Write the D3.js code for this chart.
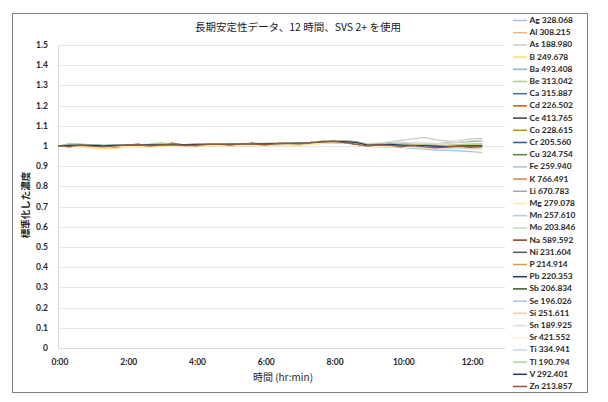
<!DOCTYPE html>
<html><head><meta charset="utf-8">
<script src="https://cdn.jsdelivr.net/npm/d3@7"></script>
<style>html,body{margin:0;padding:0;background:#fff;}svg{display:block;}</style>
</head><body>
<svg id="c" width="608" height="402"></svg>
<script>
const title = "長期安定性データ、12 時間、SVS 2+ を使用";
const yTitle = "標準化した濃度";
const xTitle = "時間 (hr:min)";
const timesMin = [0,20,40,60,80,100,120,140,160,180,200,220,240,260,280,300,320,340,360,380,400,420,440,460,480,500,520,540,560,580,600,620,640,660,680,700,720,740];
const xTickMin = [0,120,240,360,480,600,720];
const xTickLabels = ["0:00","2:00","4:00","6:00","8:00","10:00","12:00"];
const yTicks = [0,0.1,0.2,0.3,0.4,0.5,0.6,0.7,0.8,0.9,1,1.1,1.2,1.3,1.4,1.5];
const seriesNames = ["Ag 328.068","Al 308.215","As 188.980","B 249.678","Ba 493.408","Be 313.042","Ca 315.887","Cd 226.502","Ce 413.765","Co 228.615","Cr 205.560","Cu 324.754","Fe 259.940","K 766.491","Li 670.783","Mg 279.078","Mn 257.610","Mo 203.846","Na 589.592","Ni 231.604","P 214.914","Pb 220.353","Sb 206.834","Se 196.026","Si 251.611","Sn 189.925","Sr 421.552","Ti 334.941","Tl 190.794","V 292.401","Zn 213.857"];
const colors = ["#9dc3e6","#f4b183","#c9c9c9","#ffd966","#8faadc","#a9d18e","#41719c","#c55a11","#3b3838","#bf9000","#2f5597","#548235","#9dc3e6","#d08050","#a5a5a5","#ffe699","#b4c7e7","#c5e0b4","#843c0c","#595959","#c9a14a","#1f3864","#375623","#9dc3e6","#f8cbad","#dbdbdb","#fff2cc","#bdd7ee","#a9d18e","#203864","#9a5630"];

const Ag=[1.000,1.002,1.005,1.003,1.001,1.003,1.002,1.005,1.004,1.007,1.005,1.006,1.005,1.008,1.007,1.009,1.008,1.011,1.009,1.012,1.012,1.015,1.015,1.021,1.022,1.023,1.017,1.004,1.007,1.006,1.003,1.000,0.998,0.995,0.993,0.995,0.996,0.994];
const Al=[1.000,1.004,1.003,1.001,0.999,1.001,1.004,1.003,1.006,1.005,1.007,1.004,1.007,1.006,1.009,1.007,1.010,1.009,1.011,1.010,1.014,1.013,1.017,1.019,1.024,1.021,1.019,1.006,1.005,1.009,1.005,1.003,1.004,1.000,0.999,1.001,1.003,1.002];
const As=[1.000,1.003,1.004,1.003,1.001,1.002,1.004,1.003,1.005,1.006,1.007,1.005,1.006,1.008,1.007,1.009,1.009,1.011,1.010,1.012,1.013,1.014,1.016,1.021,1.024,1.022,1.019,1.008,1.012,1.020,1.028,1.036,1.043,1.030,1.024,1.026,1.035,1.038];
const B=[1.000,0.998,0.996,0.990,0.985,0.988,0.995,0.997,0.994,0.999,1.001,0.998,0.996,0.999,1.001,1.000,1.003,1.002,1.004,1.003,1.006,1.004,1.008,1.012,1.014,1.013,1.010,0.998,0.996,1.000,0.995,0.992,0.990,0.987,0.985,0.988,0.986,0.985];
const Ba=[1.000,1.004,1.006,1.004,1.003,1.004,1.005,1.006,1.007,1.008,1.008,1.007,1.009,1.010,1.011,1.010,1.012,1.013,1.012,1.014,1.015,1.016,1.018,1.022,1.025,1.024,1.020,1.008,1.009,1.011,1.007,1.006,1.005,1.002,1.001,1.003,1.004,1.005];
const Be=[1.000,1.012,1.010,1.006,1.002,1.004,1.003,1.006,1.009,1.015,1.008,1.005,1.007,1.006,1.009,1.008,1.010,1.009,1.012,1.011,1.013,1.015,1.016,1.022,1.026,1.024,1.019,1.007,1.008,1.010,1.006,1.004,1.006,1.002,1.000,1.003,1.005,1.006];
const Ca=[1.000,1.003,1.004,1.003,1.002,1.003,1.004,1.005,1.006,1.006,1.007,1.006,1.007,1.008,1.009,1.009,1.010,1.011,1.011,1.012,1.014,1.015,1.017,1.021,1.023,1.023,1.018,1.006,1.007,1.009,1.005,1.003,1.002,0.999,0.998,1.000,1.001,1.001];
const Cd=[1.000,1.002,1.003,1.000,0.997,1.000,1.002,1.004,1.003,1.006,1.004,1.003,1.005,1.006,1.006,1.005,1.008,1.008,1.009,1.009,1.011,1.012,1.014,1.018,1.020,1.019,1.015,1.002,1.003,1.005,1.001,0.998,0.996,0.993,0.992,0.994,0.996,0.995];
const Ce=[1.000,1.001,1.005,1.001,1.002,1.000,1.004,1.003,1.006,1.004,1.008,1.004,1.007,1.006,1.009,1.007,1.010,1.009,1.012,1.010,1.013,1.012,1.016,1.018,1.023,1.020,1.018,1.003,1.006,1.006,1.004,1.000,1.001,0.996,0.997,0.997,1.000,0.998];
const Co=[1.000,1.001,1.002,0.999,0.996,0.999,1.001,1.002,1.003,1.004,1.004,1.002,1.004,1.005,1.006,1.005,1.007,1.008,1.007,1.009,1.010,1.011,1.013,1.017,1.020,1.019,1.015,1.001,1.002,1.004,1.000,0.997,0.996,0.992,0.990,0.993,0.994,0.993];
const Cr=[1.000,1.003,1.005,1.004,1.002,1.003,1.004,1.006,1.006,1.007,1.007,1.006,1.007,1.008,1.009,1.009,1.011,1.011,1.012,1.012,1.014,1.015,1.017,1.021,1.024,1.023,1.019,1.006,1.007,1.009,1.005,1.004,1.003,1.000,0.999,1.001,1.002,1.003];
const Cu=[1.000,1.005,1.002,1.004,0.999,1.003,1.002,1.006,1.004,1.007,1.005,1.007,1.005,1.009,1.007,1.010,1.008,1.011,1.009,1.013,1.012,1.015,1.015,1.021,1.022,1.023,1.017,1.006,1.005,1.009,1.003,1.003,1.000,0.999,0.996,0.999,0.999,1.001];
const Fe=[1.000,1.002,1.003,1.001,0.999,1.001,1.002,1.003,1.004,1.005,1.005,1.004,1.005,1.006,1.007,1.007,1.008,1.009,1.009,1.010,1.011,1.011,1.013,1.016,1.018,1.017,1.013,0.998,0.996,0.997,0.992,0.988,0.985,0.980,0.978,0.976,0.972,0.968];
const K=[1.000,1.004,1.005,1.003,1.001,1.003,1.005,1.005,1.007,1.007,1.008,1.006,1.008,1.009,1.010,1.009,1.011,1.012,1.012,1.013,1.015,1.016,1.018,1.023,1.026,1.025,1.021,1.008,1.010,1.012,1.008,1.006,1.006,1.003,1.002,1.004,1.006,1.007];
const Li=[1.000,1.003,1.003,1.002,1.000,1.002,1.003,1.004,1.004,1.006,1.005,1.005,1.006,1.007,1.007,1.008,1.009,1.009,1.010,1.011,1.012,1.014,1.015,1.019,1.022,1.021,1.017,1.005,1.010,1.015,1.012,1.010,1.008,1.012,1.015,1.018,1.022,1.025];
const Mg=[1.000,0.999,0.997,0.994,0.991,0.994,0.997,0.999,0.998,1.001,1.002,1.000,0.999,1.002,1.003,1.002,1.005,1.004,1.006,1.005,1.008,1.007,1.010,1.014,1.016,1.015,1.012,0.999,0.998,1.001,0.997,0.994,0.992,0.989,0.987,0.990,0.989,0.988];
const Mn=[1.000,1.002,1.004,1.003,1.001,1.002,1.003,1.005,1.005,1.006,1.006,1.005,1.006,1.007,1.008,1.008,1.010,1.010,1.011,1.011,1.013,1.014,1.016,1.020,1.023,1.022,1.018,1.005,1.006,1.008,1.004,1.002,1.001,0.998,0.996,0.998,0.999,0.999];
const Mo=[1.000,1.005,1.006,1.004,1.002,1.004,1.005,1.007,1.006,1.009,1.008,1.007,1.008,1.010,1.009,1.011,1.011,1.013,1.012,1.014,1.015,1.017,1.018,1.024,1.027,1.025,1.021,1.009,1.011,1.013,1.009,1.008,1.009,1.006,1.005,1.008,1.010,1.012];
const Na=[1.000,0.996,1.004,1.002,0.997,0.993,1.004,1.010,1.000,1.004,1.015,1.004,0.999,1.008,1.012,1.003,1.008,1.014,1.005,1.011,1.016,1.008,1.013,1.022,1.027,1.016,1.008,1.000,1.010,1.003,0.996,1.007,0.998,0.990,0.997,1.003,0.992,0.998];
const Ni=[1.000,1.003,1.004,1.003,1.001,1.002,1.004,1.005,1.005,1.006,1.007,1.006,1.007,1.007,1.008,1.009,1.010,1.010,1.011,1.012,1.013,1.014,1.016,1.020,1.023,1.022,1.018,1.005,1.007,1.008,1.004,1.003,1.002,0.999,0.998,0.999,1.001,1.001];
const P=[1.000,1.001,1.000,0.997,0.994,0.997,1.000,1.001,1.001,1.003,1.003,1.001,1.002,1.004,1.005,1.004,1.006,1.006,1.006,1.007,1.009,1.010,1.012,1.016,1.018,1.017,1.014,1.000,0.999,1.002,0.997,0.995,0.993,0.990,0.989,0.991,0.992,0.991];
const Pb=[1.000,1.003,1.005,1.003,1.002,1.003,1.005,1.005,1.006,1.007,1.007,1.006,1.008,1.008,1.009,1.010,1.010,1.011,1.012,1.012,1.014,1.015,1.017,1.022,1.024,1.023,1.019,1.006,1.008,1.009,1.005,1.003,1.003,1.000,0.998,1.000,1.002,1.002];
const Sb=[1.000,1.004,1.004,1.002,1.001,1.003,1.004,1.005,1.006,1.006,1.007,1.006,1.007,1.008,1.009,1.008,1.010,1.011,1.011,1.012,1.014,1.015,1.017,1.022,1.025,1.024,1.020,1.007,1.008,1.010,1.006,1.004,1.004,1.001,1.000,1.002,1.004,1.004];
const Se=[1.000,1.002,1.003,1.002,1.000,1.001,1.003,1.004,1.004,1.005,1.006,1.004,1.005,1.007,1.007,1.007,1.009,1.009,1.010,1.010,1.012,1.013,1.015,1.018,1.021,1.020,1.016,1.003,1.004,1.006,1.002,0.999,0.998,0.995,0.993,0.995,0.997,0.996];
const Si=[1.000,1.003,1.005,1.004,1.001,1.003,1.004,1.006,1.005,1.007,1.006,1.006,1.007,1.009,1.008,1.010,1.010,1.012,1.011,1.013,1.014,1.016,1.017,1.023,1.025,1.024,1.020,1.007,1.009,1.011,1.007,1.005,1.006,1.003,1.001,1.004,1.006,1.007];
const Sn=[1.000,1.004,1.005,1.003,1.002,1.004,1.005,1.006,1.007,1.008,1.008,1.007,1.008,1.009,1.010,1.010,1.012,1.012,1.013,1.013,1.015,1.016,1.018,1.022,1.026,1.025,1.021,1.012,1.016,1.022,1.018,1.015,1.016,1.012,1.014,1.019,1.026,1.030];
const Sr=[1.000,0.998,0.997,0.995,0.993,0.995,0.998,0.999,1.000,1.001,1.001,0.999,1.000,1.002,1.002,1.003,1.004,1.004,1.005,1.006,1.008,1.009,1.011,1.015,1.017,1.016,1.012,0.998,0.997,1.000,0.995,0.992,0.991,0.988,0.986,0.988,0.990,0.989];
const Ti=[1.000,1.002,1.004,1.002,1.001,1.002,1.003,1.004,1.005,1.005,1.006,1.005,1.006,1.007,1.008,1.008,1.009,1.010,1.010,1.011,1.012,1.013,1.015,1.019,1.021,1.020,1.016,1.002,1.003,1.004,0.999,0.996,0.994,0.991,0.989,0.990,0.991,0.990];
const Tl=[1.000,1.010,1.008,1.005,1.003,1.005,1.004,1.007,1.008,1.012,1.010,1.006,1.008,1.007,1.010,1.009,1.011,1.010,1.013,1.012,1.014,1.016,1.017,1.023,1.026,1.025,1.020,1.008,1.010,1.012,1.008,1.006,1.007,1.004,1.003,1.006,1.009,1.011];
const V=[1.000,1.003,1.004,1.003,1.001,1.003,1.004,1.005,1.006,1.006,1.007,1.006,1.007,1.008,1.008,1.009,1.010,1.010,1.011,1.012,1.013,1.014,1.016,1.021,1.023,1.022,1.018,1.005,1.006,1.008,1.004,1.002,1.002,0.999,0.997,0.999,1.001,1.000];
const Zn=[1.000,0.998,1.003,0.999,0.995,1.000,1.004,1.006,1.001,1.006,1.010,1.002,1.004,1.008,1.009,1.004,1.010,1.011,1.006,1.012,1.013,1.010,1.015,1.019,1.024,1.017,1.010,0.999,1.006,1.003,0.997,1.003,0.995,0.991,0.996,0.999,0.993,0.997];

const seriesValues = [Ag,Al,As,B,Ba,Be,Ca,Cd,Ce,Co,Cr,Cu,Fe,K,Li,Mg,Mn,Mo,Na,Ni,P,Pb,Sb,Se,Si,Sn,Sr,Ti,Tl,V,Zn];

const svg = d3.select("#c");
const plot = {l:58, r:505, t:45, b:348};
const x = d3.scaleLinear().domain([0,780]).range([plot.l, plot.r]);
const y = d3.scaleLinear().domain([0,1.5]).range([plot.b, plot.t]);
const latin = "Lato, 'Liberation Sans', sans-serif";
const cjk = "'Noto Sans CJK JP', 'Noto Sans', sans-serif";

svg.append("rect").attr("x",12.5).attr("y",13.5).attr("width",575).attr("height",379)
  .attr("fill","#fff").attr("stroke","#7f7f7f").attr("stroke-width",1);

svg.append("g").selectAll("line").data(yTicks.filter(d=>d>0)).join("line")
  .attr("x1",plot.l).attr("x2",plot.r)
  .attr("y1",d=>Math.round(y(d))+0.5).attr("y2",d=>Math.round(y(d))+0.5)
  .attr("stroke","#e4e4e4").attr("stroke-width",1);

svg.append("line").attr("x1",plot.l+0.5).attr("x2",plot.l+0.5).attr("y1",plot.t).attr("y2",plot.b)
  .attr("stroke","#d9d9d9");
svg.append("line").attr("x1",plot.l).attr("x2",plot.r).attr("y1",plot.b+0.5).attr("y2",plot.b+0.5)
  .attr("stroke","#d9d9d9");

svg.append("g").selectAll("text").data(yTicks).join("text")
  .attr("x",48).attr("y",d=>y(d)).attr("dy","0.35em").attr("text-anchor","end")
  .attr("font-family",latin).attr("font-weight","bold").attr("font-size",8.5).attr("fill","#262626")
  .text(d=>String(d));

svg.append("g").selectAll("text").data(xTickMin).join("text")
  .attr("x",(d)=>x(d)+2).attr("y",362).attr("dy","0.35em").attr("text-anchor","middle")
  .attr("font-family",latin).attr("font-weight","bold").attr("font-size",8.5).attr("fill","#262626")
  .text((d,i)=>xTickLabels[i]);

svg.append("text").attr("x",298).attr("y",27).attr("dy","0.35em").attr("text-anchor","middle")
  .attr("font-family",cjk).attr("font-size",10.5).attr("fill","#1a1a1a").text(title);
svg.append("text").attr("x",283).attr("y",377).attr("dy","0.35em").attr("text-anchor","middle")
  .attr("font-family",cjk).attr("font-size",10).attr("fill","#262626").text(xTitle);
svg.append("text").attr("transform","translate(26,205) rotate(-90)").attr("dy","0.35em").attr("text-anchor","middle")
  .attr("font-family",cjk).attr("font-weight","bold").attr("font-size",9.5).attr("fill","#262626").text(yTitle);

const line = d3.line().defined((d,i)=>timesMin[i]!==undefined && d!=null)
  .x((d,i)=>x(timesMin[i])).y(d=>y(d));
svg.append("g").selectAll("path").data(seriesValues).join("path")
  .attr("d",d=>line(d)).attr("fill","none")
  .attr("stroke",(d,i)=>colors[i]).attr("stroke-width",1.2).attr("stroke-linejoin","round");

const lg = svg.append("g").selectAll("g").data(seriesNames).join("g")
  .attr("transform",(d,i)=>`translate(0,${20 + i*12.2})`);
lg.append("line").attr("x1",513).attr("x2",527).attr("y1",0.5).attr("y2",0.5)
  .attr("stroke",(d,i)=>colors[i]).attr("stroke-width",1.5);
lg.append("text").attr("x",529.5).attr("y",0).attr("dy","0.35em")
  .attr("font-family",latin).attr("font-weight","bold").attr("font-size",8.4).attr("fill","#262626")
  .text(d=>d);
</script>
</body></html>
